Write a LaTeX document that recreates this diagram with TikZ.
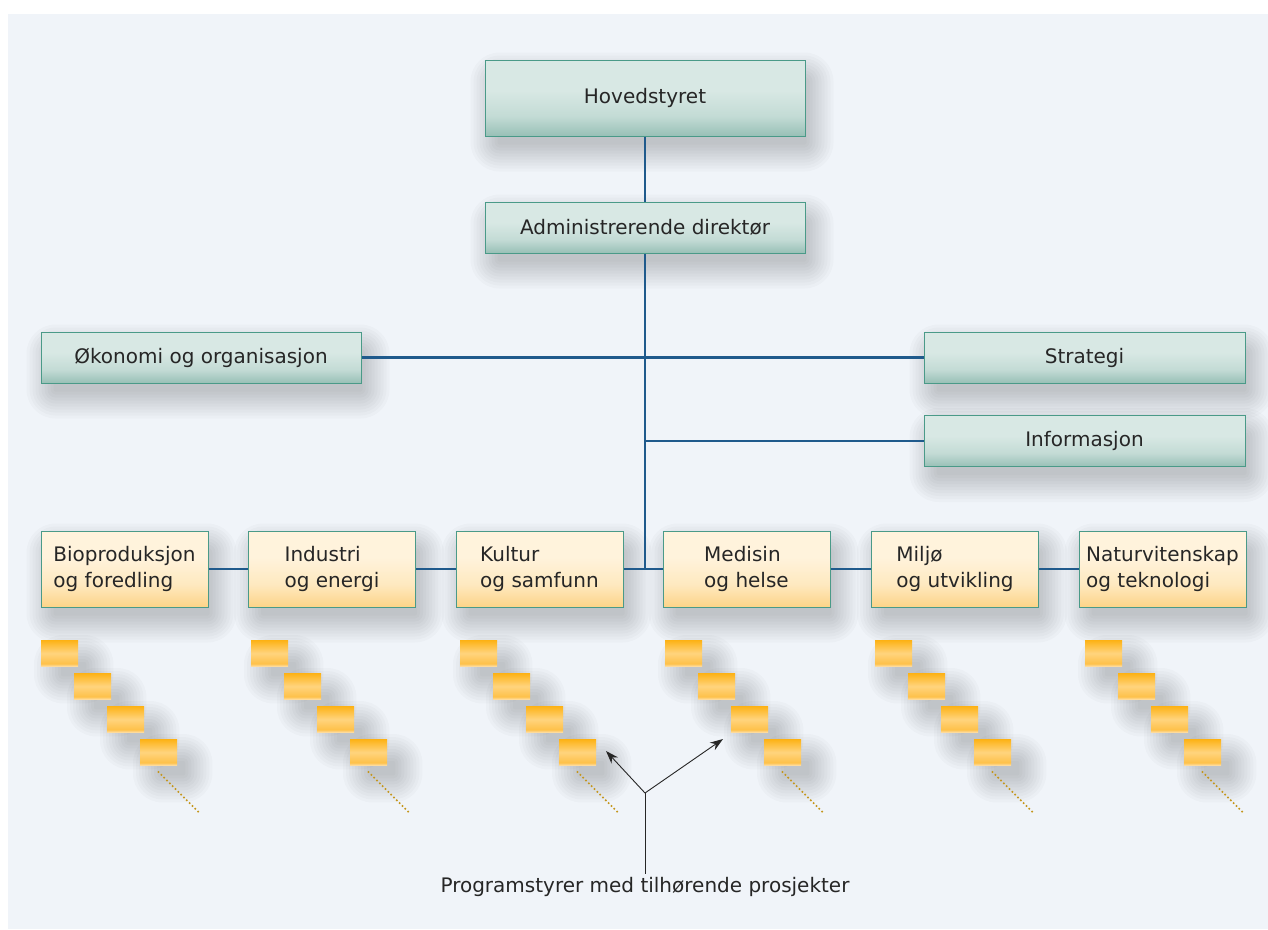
\documentclass[tikz,border=0pt]{standalone}
\usepackage{fontspec}
\setmainfont{DejaVu Sans}
\usetikzlibrary{arrows.meta}
\definecolor{panel}{HTML}{F0F4F9}
\definecolor{boxedge}{HTML}{4A9A88}
\definecolor{tealtop}{HTML}{D8E8E4}
\definecolor{tealmid}{HTML}{C3DBD5}
\definecolor{tealbot}{HTML}{98C0B6}
\definecolor{creamtop}{HTML}{FFF3DC}
\definecolor{creammid}{HTML}{FEE9C0}
\definecolor{creambot}{HTML}{FDD488}
\definecolor{ambertop}{HTML}{FDB215}
\definecolor{ambermid}{HTML}{FFD47E}
\definecolor{amberbot}{HTML}{FEC14A}
\definecolor{amberpale}{HTML}{FEDDA2}
\definecolor{wire}{HTML}{1F5A8C}
\definecolor{ink}{HTML}{262626}
\definecolor{dotgold}{HTML}{C4961C}
\pgfdeclareverticalshading{tealfade}{100bp}{color(0bp)=(tealbot); color(25bp)=(tealbot);%
  color(38bp)=(tealmid); color(55bp)=(tealtop); color(100bp)=(tealtop)}
\pgfdeclareverticalshading{creamfade}{100bp}{color(0bp)=(creambot); color(25bp)=(creambot);%
  color(40bp)=(creammid); color(58bp)=(creamtop); color(100bp)=(creamtop)}
\pgfdeclareverticalshading{amberfade}{100bp}{color(0bp)=(amberpale); color(25bp)=(amberpale);%
  color(30bp)=(amberbot); color(50bp)=(ambermid); color(75bp)=(ambertop); color(100bp)=(ambertop)}
\pgfdeclarelayer{backdrop}
\pgfdeclarelayer{shade}
\pgfsetlayers{backdrop,shade,main}
\newcommand{\orgfont}{\fontsize{20}{26}\selectfont}
% soft shadow: stacked faint rectangles behind a node
\newcommand{\castshadow}[3]{%
  \begin{pgfonlayer}{shade}
    \foreach \g in {-6,-3,...,21}
      \fill[black, opacity=0.021, rounded corners=\g+8]
        ([shift={(#2-\g,#3-\g)}]#1.north west) rectangle ([shift={(#2+\g,#3+\g)}]#1.south east);
  \end{pgfonlayer}}
\tikzset{%
  orgbox/.style   = {shape=rectangle, draw=boxedge, line width=1pt,%
                     inner sep=0pt, text=ink, font=\orgfont},%
  staff/.style    = {orgbox, minimum width=320pt, minimum height=51pt, shading=tealfade},%
  board/.style    = {staff, minimum height=76pt},%
  unit/.style     = {orgbox, minimum width=167pt, minimum height=76pt, align=left,%
                     shading=creamfade},%
  progbox/.style  = {shape=rectangle, inner sep=0pt, minimum width=37pt,%
                     minimum height=26pt, anchor=north west, shading=amberfade},%
  link/.style     = {draw=wire, line width=2.4pt},%
  pointer/.style  = {draw=ink, line width=0.9pt},%
  dotline/.style  = {draw=dotgold, line width=1.6pt, dash pattern=on 1.6pt off 2.4pt}%
}
\begin{document}
\begin{tikzpicture}[x=1pt, y=-1pt]
  \useasboundingbox (0,0) rectangle (1268,929);
  \begin{pgfonlayer}{backdrop}
    \fill[panel] (8,14) rectangle (1268,929);
  \end{pgfonlayer}
  % top of the tree
  \node[board] (hoved) at (645,98) {Hovedstyret};
  \node[staff] (adm) at (645,227.5) {Administrerende direktør};
  \node[staff] (okonomi) at (201,357.5) {Økonomi og organisasjon};
  \node[staff, minimum width=321pt] (strategi) at (1084.5,357.5) {Strategi};
  \node[staff, minimum width=321pt] (info) at (1084.5,441) {Informasjon};
  % the six areas
  \node[unit] (bio) at (124.5,569) {Bioproduksjon\\og foredling};
  \node[unit] (industri) at (332,569) {Industri\\og energi};
  \node[unit] (kultur) at (539.5,569) {Kultur\\og samfunn};
  \node[unit] (medisin) at (746.5,569) {Medisin\\og helse};
  \node[unit] (miljo) at (955,569) {Miljø\\og utvikling};
  \node[unit] (natur) at (1162.5,569) {Naturvitenskap\\og teknologi};
  \foreach \n in {hoved,adm,okonomi,strategi,info,bio,industri,kultur,medisin,miljo,natur}
    \castshadow{\n}{7}{14};
  \draw[link] (hoved) -- (adm);
  \draw[link] (adm.south) -- (adm.south |- kultur.east);
  \draw[link] (okonomi.east) -- (strategi.west);
  \draw[link] (adm.south |- info.west) -- (info.west);
  \draw[link] (bio.east) -- (industri.west);
  \draw[link] (industri.east) -- (kultur.west);
  \draw[link] (kultur.east) -- (medisin.west);
  \draw[link] (medisin.east) -- (miljo.west);
  \draw[link] (miljo.east) -- (natur.west);
  % programme boards under each area
  \foreach \col/\x in {1/41, 2/251, 3/460, 4/665, 5/875, 6/1085}{
    \foreach \k in {0,...,3}{
      \node[progbox] (p\col-\k) at (\x+33*\k, 640+33*\k) {};
      \castshadow{p\col-\k}{14}{16}
    }
    \draw[dotline] ([shift={(18,6)}]p\col-3.south west) -- ++(41,41);
  }
  % caption with its two arrows
  \node[font=\orgfont, text=ink] (caption) at (645,887) {Programstyrer med tilhørende prosjekter};
  \coordinate (fork) at (645,793);
  \coordinate (tipleft) at (606,751);
  \coordinate (tipright) at (723,739);
  \draw[pointer] (caption.north) -- (fork);
  \draw[pointer, -{Stealth[length=13pt, width=9pt]}] (fork) -- (tipleft);
  \draw[pointer, -{Stealth[length=13pt, width=9pt]}] (fork) -- (tipright);
\end{tikzpicture}
\end{document}
